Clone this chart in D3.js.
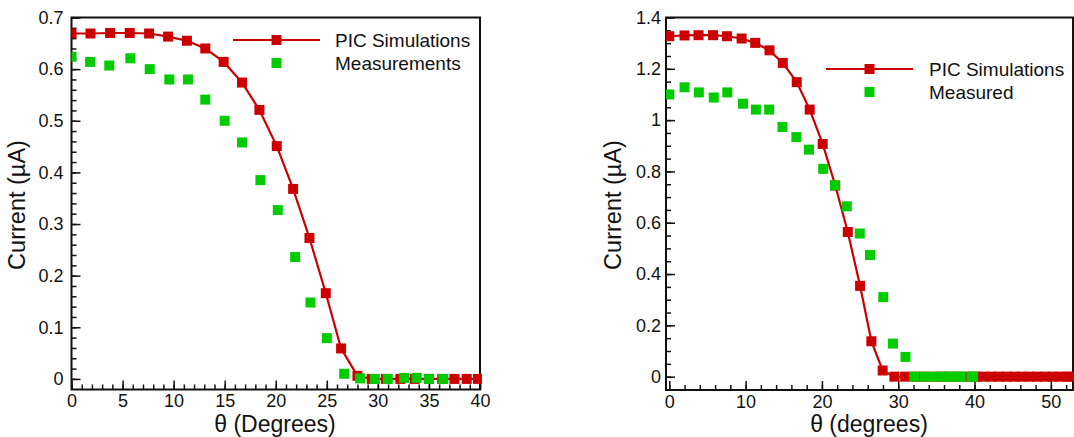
<!DOCTYPE html>
<html>
<head>
<meta charset="utf-8">
<script src="https://cdn.jsdelivr.net/npm/d3@7"></script>
<style>
  body { margin: 0; background: #fff; }
  svg { display: block; font-family: "Liberation Sans", Arial, Helvetica, sans-serif; }
  .tick text { fill: #111; }
</style>
</head>
<body>
<script>
// left panel (PIC vs measurements)
var leftPicTheta = [0, 1.86, 3.78, 5.7, 7.6, 9.46, 11.3, 13.1, 14.9, 16.7, 18.4, 20.1, 21.7, 23.3, 24.9, 26.4, 28.0, 29.4, 30.8, 32.2, 33.6, 35.0, 36.3, 37.5, 38.7, 39.8];
var leftPicCurrent = [0.669, 0.669, 0.670, 0.670, 0.669, 0.663, 0.655, 0.640, 0.614, 0.574, 0.521, 0.451, 0.368, 0.273, 0.166, 0.059, 0.006, 0, 0, 0, 0, 0, 0, 0, 0, 0];
var leftMeasTheta = [0, 1.82, 3.7, 5.76, 7.66, 9.58, 11.4, 13.1, 15.0, 16.7, 18.5, 20.2, 21.9, 23.4, 25.0, 26.7, 28.26, 29.7, 30.97, 32.57, 33.8, 35.0, 36.4];
var leftMeasCurrent = [0.624, 0.614, 0.607, 0.621, 0.600, 0.580, 0.580, 0.541, 0.500, 0.458, 0.385, 0.327, 0.236, 0.148, 0.079, 0.010, 0.001, 0, 0, 0.002, 0.002, 0, 0];

// right panel (PIC vs measured)
var rightPicTheta = [0, 2.0, 3.83, 5.74, 7.56, 9.48, 11.26, 13.13, 14.87, 16.7, 18.4, 20.1, 21.75, 23.39, 25.0, 26.48, 27.96, 29.5, 30.9, 32.3, 33.6, 35.0, 36.3, 37.6, 38.9, 40.2, 41.2, 42.2, 43.2, 44.2, 45.2, 46.2, 47.2, 48.2, 49.2, 50.2, 51.2, 52.2, 52.6];
var rightPicCurrent = [1.327, 1.330, 1.331, 1.331, 1.327, 1.318, 1.301, 1.272, 1.223, 1.148, 1.041, 0.907, 0.745, 0.564, 0.354, 0.138, 0.024, 0, 0, 0, 0, 0, 0, 0, 0, 0, 0, 0, 0, 0, 0, 0, 0, 0, 0, 0, 0, 0, 0];
var rightMeasTheta = [0, 2.0, 3.87, 5.83, 7.6, 9.65, 11.35, 13.09, 14.83, 16.65, 18.3, 20.17, 21.7, 23.26, 24.96, 26.3, 28.04, 29.3, 30.95, 32.1, 33.5, 34.6, 35.7, 36.7, 37.7, 38.2, 39.6, 39.8];
var rightMeasCurrent = [1.100, 1.128, 1.108, 1.088, 1.108, 1.064, 1.041, 1.041, 0.973, 0.934, 0.885, 0.810, 0.746, 0.664, 0.558, 0.474, 0.310, 0.129, 0.077, 0, 0, 0, 0, 0, 0, 0, 0, 0];

var leftXTicks = [0, 5, 10, 15, 20, 25, 30, 35, 40];
var leftYTicks = [0, 0.1, 0.2, 0.3, 0.4, 0.5, 0.6, 0.7];
var rightXTicks = [0, 10, 20, 30, 40, 50];
var rightYTicks = [0, 0.2, 0.4, 0.6, 0.8, 1, 1.2, 1.4];

var RED = "#cc0000";
var GREEN = "#00cc00";

var svg = d3.select("body")
  .append("svg")
  .attr("width", 1074)
  .attr("height", 437);

function zip(a, b){
  return a.map(function(v, i){ return [v, b[i]]; });
}

function drawPanel(cfg){
  var x = d3.scaleLinear().domain(cfg.xDomain).range(cfg.xRange);
  var y = d3.scaleLinear().domain(cfg.yDomain).range(cfg.yRange);
  var g = svg.append("g");
  var left = cfg.xRange[0], right = cfg.xRange[1];
  var top = cfg.yRange[1], bottom = cfg.yRange[0];

  // minor ticks
  g.append("g")
    .attr("transform", "translate(0," + bottom + ")")
    .call(d3.axisBottom(x).tickValues(cfg.xMinor).tickSize(-5).tickFormat(""))
    .call(function(a){ a.select(".domain").remove(); });
  g.append("g")
    .attr("transform", "translate(" + left + ",0)")
    .call(d3.axisLeft(y).tickValues(cfg.yMinor).tickSize(-5).tickFormat(""))
    .call(function(a){ a.select(".domain").remove(); });

  // major ticks + labels
  var xa = g.append("g")
    .attr("transform", "translate(0," + bottom + ")")
    .call(d3.axisBottom(x).tickValues(cfg.xTicks).tickSize(-9).tickPadding(5).tickFormat(d3.format("d")));
  xa.select(".domain").remove();
  var ya = g.append("g")
    .attr("transform", "translate(" + left + ",0)")
    .call(d3.axisLeft(y).tickValues(cfg.yTicks).tickSize(-9).tickPadding(cfg.yPad).tickFormat(d3.format("")));
  ya.select(".domain").remove();
  g.selectAll(".tick line").attr("stroke", "#111").attr("stroke-width", 1.5);
  g.selectAll(".tick text").attr("font-size", 18).attr("font-family", null);

  // frame
  g.append("rect")
    .attr("x", left).attr("y", top)
    .attr("width", right - left).attr("height", bottom - top)
    .attr("fill", "none")
    .attr("stroke", "#111")
    .attr("stroke-width", 2);

  var clipId = "clip" + cfg.id;
  g.append("clipPath").attr("id", clipId)
    .append("rect")
    .attr("x", left).attr("y", top - 10)
    .attr("width", right - left + 2).attr("height", bottom - top + 10);

  var plot = g.append("g").attr("clip-path", "url(#" + clipId + ")");
  var pic = zip(cfg.picX, cfg.picY);
  var meas = zip(cfg.measX, cfg.measY);
  var s = 10;

  plot.append("path")
    .datum(pic)
    .attr("d", d3.line().x(d => x(d[0])).y(d => y(d[1])))
    .attr("fill", "none")
    .attr("stroke", RED)
    .attr("stroke-width", 2.2);

  plot.append("g").selectAll("rect")
    .data(pic).enter().append("rect")
    .attr("x", d => x(d[0]) - s/2)
    .attr("y", d => y(d[1]) - s/2)
    .attr("width", s).attr("height", s)
    .attr("fill", RED);

  plot.append("g").selectAll("rect")
    .data(meas).enter().append("rect")
    .attr("x", d => x(d[0]) - s/2)
    .attr("y", d => y(d[1]) - s/2)
    .attr("width", s).attr("height", s)
    .attr("fill", GREEN);

  // legend
  var L = cfg.legend;
  g.append("line")
    .attr("x1", L.x1).attr("x2", L.x2)
    .attr("y1", L.y).attr("y2", L.y)
    .attr("stroke", RED).attr("stroke-width", 2);
  g.append("rect")
    .attr("x", (L.x1 + L.x2)/2 - s/2).attr("y", L.y - s/2)
    .attr("width", s).attr("height", s).attr("fill", RED);
  g.append("rect")
    .attr("x", (L.x1 + L.x2)/2 - s/2).attr("y", L.y + L.gap - s/2)
    .attr("width", s).attr("height", s).attr("fill", GREEN);
  g.append("text")
    .attr("x", L.tx).attr("y", L.y).attr("dy", "0.35em")
    .attr("font-size", 19).attr("fill", "#111")
    .text("PIC Simulations");
  g.append("text")
    .attr("x", L.tx).attr("y", L.y + L.gap).attr("dy", "0.35em")
    .attr("font-size", 19).attr("fill", "#111")
    .text(cfg.measName);

  // axis titles
  g.append("text")
    .attr("x", cfg.xTitleX).attr("y", 432)
    .attr("text-anchor", "middle")
    .attr("font-size", 23).attr("fill", "#111")
    .text(cfg.xTitle);
  g.append("text")
    .attr("transform", "translate(" + cfg.yTitleX + ",205) rotate(-90)")
    .attr("text-anchor", "middle")
    .attr("font-size", 23.5).attr("fill", "#111")
    .text("Current (\u00b5A)");
}

drawPanel({
  id: "L",
  xDomain: [0, 40], xRange: [71.5, 480],
  yDomain: [-0.0205, 0.7], yRange: [389.5, 17.5],
  xTicks: leftXTicks, xMinor: d3.range(0, 41, 1),
  yTicks: leftYTicks, yMinor: d3.range(0, 0.701, 0.02),
  yPad: 8,
  picX: leftPicTheta, picY: leftPicCurrent,
  measX: leftMeasTheta, measY: leftMeasCurrent,
  measName: "Measurements",
  legend: {x1: 233, x2: 320, y: 40, gap: 23, tx: 335},
  xTitle: "\u03b8 (Degrees)", xTitleX: 275,
  yTitleX: 25
});

drawPanel({
  id: "R",
  xDomain: [-0.43, 52.9], xRange: [666, 1073],
  yDomain: [-0.052, 1.4], yRange: [390, 17.5],
  xTicks: rightXTicks, xMinor: d3.range(0, 53, 2),
  yTicks: rightYTicks, yMinor: d3.range(0, 1.401, 0.05),
  yPad: 5,
  picX: rightPicTheta, picY: rightPicCurrent,
  measX: rightMeasTheta, measY: rightMeasCurrent,
  measName: "Measured",
  legend: {x1: 826, x2: 913, y: 69, gap: 23, tx: 929},
  xTitle: "\u03b8 (degrees)", xTitleX: 869,
  yTitleX: 621
});
</script>
</body>
</html>
